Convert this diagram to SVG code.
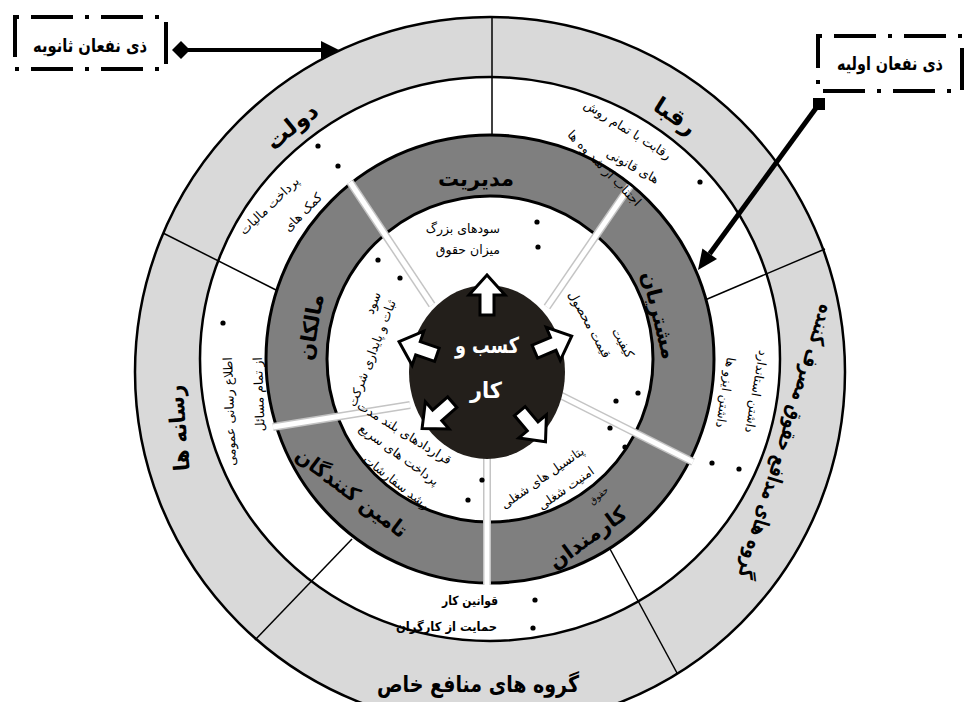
<svg xmlns="http://www.w3.org/2000/svg" width="968" height="702" viewBox="0 0 968 702">
<style>
text{font-family:"DejaVu Sans",sans-serif;fill:#000}
.lbl{font-size:23px;font-weight:bold}
.rl{font-size:21px;font-weight:bold}
.t{font-size:12.5px}
.bt{font-size:18px;font-weight:bold}
.ct{font-size:22px;font-weight:bold;fill:#fff}
.box{fill:#fff;stroke:#000;stroke-width:4;stroke-dasharray:4 12 42 12}
.div{stroke:#000;stroke-width:1.5}
.wds{stroke:#c4c4c4;stroke-width:8}
.wd{stroke:#fff;stroke-width:5}
.arr{fill:#fff;stroke:#000;stroke-width:3;stroke-linejoin:miter}
.ln{stroke:#000;fill:none}
</style>
<defs>
<path id="pDolat" d="M191.6,307.8 A303,295 0 0 1 490,64"/>
<path id="pRoghaba" d="M474.1,64.4 A303,295 0 0 1 785.2,292.6"/>
<polygon id="ar" points="0,0 18,20 7,20 7,40 -7,40 -7,20 -18,20"/>
</defs>
<rect width="968" height="702" fill="#fff"/>

<g id="rings">
<circle cx="490" cy="372" r="355" fill="#d9d9d9" stroke="#000" stroke-width="2.5"/>
<ellipse cx="490" cy="359" rx="290" ry="282" fill="#fff" stroke="#000" stroke-width="2.5"/>
<g class="div">
<line x1="492" y1="17" x2="492" y2="140"/>
<line x1="163" y1="233" x2="280" y2="292"/>
<line x1="705" y1="300" x2="825" y2="249"/>
<line x1="610" y1="549" x2="677" y2="673"/>
<line x1="352" y1="539" x2="255" y2="640"/>
</g>
<circle cx="490" cy="359" r="224" fill="#7f7f7f" stroke="#000" stroke-width="3"/>
<circle cx="490" cy="359" r="163" fill="#fff" stroke="#000" stroke-width="3"/>
<g>
<line class="wds" x1="350" y1="182" x2="432" y2="305"/>
<line class="wd" x1="350" y1="182" x2="432" y2="305"/>
<line class="wds" x1="630" y1="186" x2="547" y2="307"/>
<line class="wd" x1="630" y1="186" x2="547" y2="307"/>
<line class="wds" x1="693" y1="462" x2="556" y2="393"/>
<line class="wd" x1="693" y1="462" x2="556" y2="393"/>
<line class="wds" x1="487" y1="585" x2="487" y2="455"/>
<line class="wd" x1="487" y1="585" x2="487" y2="455"/>
<line class="wds" x1="273" y1="427" x2="410" y2="405"/>
<line class="wd" x1="273" y1="427" x2="410" y2="405"/>
</g>
</g>

<g id="dolat">
<text class="lbl" text-anchor="middle"><textPath href="#pDolat" startOffset="50%">دولت</textPath></text>
<circle cx="318" cy="146" r="2.6"/>
<circle cx="338" cy="166" r="2.6"/>
<text class="t" text-anchor="end" transform="translate(300,182) rotate(-44)">پرداخت مالیات</text>
<text class="t" text-anchor="end" transform="translate(323,198) rotate(-45)">کمک های</text>
</g>

<g id="roghaba">
<text class="lbl" text-anchor="middle"><textPath href="#pRoghaba" startOffset="50%">رقبا</textPath></text>
<circle cx="700" cy="182" r="2.6"/>
<text class="t" text-anchor="end" transform="translate(668,160) rotate(32)">رقابت با تمام روش</text>
<text class="t" text-anchor="end" transform="translate(656,184) rotate(29)">های قانونی</text>
<text class="t" text-anchor="end" transform="translate(636,207) rotate(46)">اجتناب از شد وه ها</text>
</g>

<g id="consumer">
<text class="lbl" style="font-size:21px" text-anchor="middle" transform="translate(787,442) rotate(107)" y="8" textLength="285" lengthAdjust="spacingAndGlyphs">گروه های مدافع حقوق مصرف کننده</text>
<circle cx="739" cy="469" r="2.6"/>
<circle cx="712" cy="463" r="2.6"/>
<text class="t" text-anchor="end" transform="translate(745,432) rotate(100)">داشتن استاندارد</text>
<text class="t" text-anchor="end" transform="translate(716,427) rotate(99)">داشتن ایزو ها</text>
</g>

<g id="special">
<text class="lbl" x="478" y="692" text-anchor="middle" textLength="202" lengthAdjust="spacingAndGlyphs">گروه های منافع خاص</text>
<circle cx="535" cy="600" r="2.6"/>
<circle cx="533" cy="628" r="2.6"/>
<text class="t" style="font-weight:bold" x="498" y="605" text-anchor="end" textLength="56" lengthAdjust="spacingAndGlyphs">قوانین کار</text>
<text class="t" style="font-weight:bold" x="497" y="631" text-anchor="end" textLength="101" lengthAdjust="spacingAndGlyphs">حمایت از کارگران</text>
</g>

<g id="media">
<text class="lbl" style="font-size:22px" text-anchor="middle" transform="translate(178,428) rotate(-95)" y="8" textLength="86" lengthAdjust="spacingAndGlyphs">رسانه ها</text>
<circle cx="223" cy="323" r="2.6"/>
<text class="t" text-anchor="end" transform="translate(232,357) rotate(-92)">اطلاع رسانی عمومی</text>
<text class="t" text-anchor="end" transform="translate(262,357) rotate(-92)">از تمام مسائل</text>
</g>

<g id="management">
<text class="rl" x="476" y="186" text-anchor="middle">مدیریت</text>
<circle cx="537" cy="222" r="2.6"/>
<circle cx="538" cy="247" r="2.6"/>
<text class="t" x="500" y="233" text-anchor="end">سودهای بزرگ</text>
<text class="t" x="500" y="254" text-anchor="end">میزان حقوق</text>
</g>

<g id="customers">
<text class="rl" text-anchor="middle" transform="translate(660,315) rotate(76)" y="8">مشتریان</text>
<circle cx="638" cy="393" r="2.6"/>
<circle cx="616" cy="401" r="2.6"/>
<text class="t" text-anchor="end" transform="translate(627,359) rotate(61)">کیفیت</text>
<text class="t" text-anchor="end" transform="translate(604,359) rotate(61)">قیمت محصول</text>
</g>

<g id="employees">
<text class="rl" text-anchor="middle" transform="translate(587,537) rotate(-36)" y="8">کارمندان</text>
<circle cx="610" cy="428" r="2.6"/>
<circle cx="625" cy="447" r="2.6"/>
<text class="t" text-anchor="end" transform="translate(585,453) rotate(-35)">پتانسیل های شغلی</text>
<text class="t" text-anchor="end" transform="translate(595,473) rotate(-35)">امنیت شغلی</text>
<text class="t" style="font-size:9px" text-anchor="end" transform="translate(609,491) rotate(-40)">حقوق</text>
</g>

<g id="suppliers">
<text class="rl" text-anchor="middle" transform="translate(352,492) rotate(37)" y="8" textLength="134" lengthAdjust="spacingAndGlyphs">تامین کنندگان</text>
<circle cx="482" cy="480" r="2.6"/>
<circle cx="468" cy="500" r="2.6"/>
<text class="t" text-anchor="end" transform="translate(448,465) rotate(32)">قراردادهای بلند مدت</text>
<text class="t" text-anchor="end" transform="translate(435,486) rotate(36)">پرداخت های سریع</text>
<text class="t" text-anchor="end" transform="translate(425,510) rotate(38)">رشد سفارشات</text>
</g>

<g id="owners">
<text class="rl" text-anchor="middle" transform="translate(310,327) rotate(-80)" y="8">مالکان</text>
<circle cx="378" cy="260" r="2.6"/>
<circle cx="400" cy="278" r="2.6"/>
<text class="t" text-anchor="end" transform="translate(381,294) rotate(-69)">سود</text>
<text class="t" text-anchor="end" transform="translate(396,302) rotate(-69)">ثبات و پایداری شرکت</text>
</g>

<g id="business">
<ellipse cx="487" cy="372" rx="78" ry="87" fill="#231f1b"/>
<use href="#ar" class="arr" transform="translate(487,372) rotate(0) translate(0,-97)"/>
<use href="#ar" class="arr" transform="translate(487,372) rotate(67) translate(0,-92)"/>
<use href="#ar" class="arr" transform="translate(487,372) rotate(140) translate(0,-91)"/>
<use href="#ar" class="arr" transform="translate(487,372) rotate(229) translate(0,-86)"/>
<use href="#ar" class="arr" transform="translate(487,372) rotate(289) translate(0,-93)"/>
<text class="ct" x="487" y="353" text-anchor="middle" textLength="64" lengthAdjust="spacingAndGlyphs">کسب و</text>
<text class="ct" x="486" y="398" text-anchor="middle" textLength="32" lengthAdjust="spacingAndGlyphs">کار</text>
</g>

<g id="secondary">
<rect class="box" x="15" y="17" width="151" height="52"/>
<text class="bt" x="90" y="52" text-anchor="middle" textLength="114" lengthAdjust="spacingAndGlyphs">ذی نفعان ثانویه</text>
</g>

<g id="primary">
<rect class="box" x="818" y="36" width="144" height="55"/>
<text class="bt" x="890" y="70" text-anchor="middle" textLength="106" lengthAdjust="spacingAndGlyphs">ذی نفعان اولیه</text>
</g>

<g id="connectors">
<line class="ln" x1="188" y1="50" x2="324" y2="50" stroke-width="4"/>
<polygon points="172,50 181,41 190,50 181,59"/>
<polygon points="339,50 321,41 321,59"/>
<line class="ln" x1="819" y1="104" x2="709.7" y2="253.8" stroke-width="5"/>
<rect x="813" y="98" width="12" height="12"/>
<polygon points="698,270 717,259.1 702.4,248.5"/>
</g>
</svg>
